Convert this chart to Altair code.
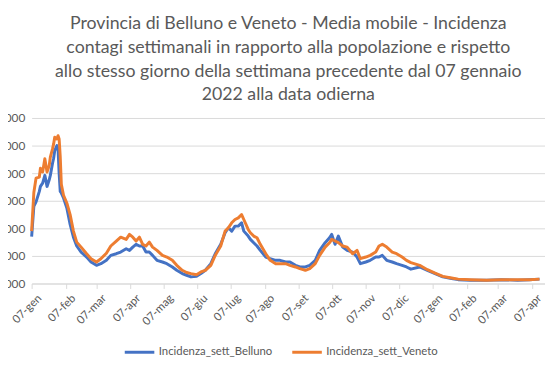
import altair as alt
import pandas as pd

# ---- data ----
dates = [
    "2022-01-07", "2022-01-09", "2022-01-11", "2022-01-14", "2022-01-15", "2022-01-17",
    "2022-01-19", "2022-01-21", "2022-01-23", "2022-01-24", "2022-01-26", "2022-01-27",
    "2022-01-28", "2022-01-30", "2022-01-31", "2022-02-01", "2022-02-02", "2022-02-03",
    "2022-02-05", "2022-02-08", "2022-02-11", "2022-02-14", "2022-02-17", "2022-02-21",
    "2022-02-26", "2022-03-02", "2022-03-07", "2022-03-11", "2022-03-16", "2022-03-20",
    "2022-03-25", "2022-03-29", "2022-04-03", "2022-04-06", "2022-04-09", "2022-04-12",
    "2022-04-15", "2022-04-18", "2022-04-21", "2022-04-24", "2022-04-27", "2022-05-01",
    "2022-05-06", "2022-05-10", "2022-05-15", "2022-05-19", "2022-05-24", "2022-05-28",
    "2022-06-01", "2022-06-06", "2022-06-10", "2022-06-14", "2022-06-19", "2022-06-23",
    "2022-06-28", "2022-07-02", "2022-07-05", "2022-07-08", "2022-07-11", "2022-07-14",
    "2022-07-17", "2022-07-19", "2022-07-23", "2022-07-25", "2022-07-28", "2022-07-31",
    "2022-08-03", "2022-08-08", "2022-08-12", "2022-08-17", "2022-08-21", "2022-08-26",
    "2022-08-30", "2022-09-04", "2022-09-08", "2022-09-13", "2022-09-17", "2022-09-22",
    "2022-09-26", "2022-10-01", "2022-10-05", "2022-10-07", "2022-10-10", "2022-10-13",
    "2022-10-17", "2022-10-21", "2022-10-26", "2022-10-30", "2022-11-02", "2022-11-07",
    "2022-11-11", "2022-11-16", "2022-11-19", "2022-11-22", "2022-11-26", "2022-12-01",
    "2022-12-05", "2022-12-10", "2022-12-14", "2022-12-18", "2022-12-26", "2023-01-02",
    "2023-01-09", "2023-01-16", "2023-01-24", "2023-01-30", "2023-02-10", "2023-02-25",
    "2023-03-10", "2023-03-25", "2023-04-05", "2023-04-14",
]
belluno = [
    0.0085, 0.0140, 0.0148, 0.0167, 0.0176, 0.0182,
    0.0196, 0.0176, 0.0188, 0.0196, 0.0218, 0.0227,
    0.0241, 0.0250, 0.0245, 0.0200, 0.0167, 0.0164,
    0.0155, 0.0137, 0.0107, 0.0084, 0.0068, 0.0057,
    0.0048, 0.0039, 0.0033, 0.0036, 0.0042, 0.0051,
    0.0054, 0.0057, 0.0063, 0.0060, 0.0066, 0.0071,
    0.0068, 0.0068, 0.0057, 0.0057, 0.0051, 0.0042,
    0.0039, 0.0036, 0.0030, 0.0024, 0.0018, 0.0015,
    0.0012, 0.0013, 0.0018, 0.0024, 0.0036, 0.0054,
    0.0071, 0.0092, 0.0101, 0.0095, 0.0104, 0.0104,
    0.0110, 0.0095, 0.0086, 0.0080, 0.0074, 0.0068,
    0.0060, 0.0048, 0.0045, 0.0042, 0.0042, 0.0039,
    0.0039, 0.0033, 0.0030, 0.0030, 0.0033, 0.0042,
    0.0060, 0.0074, 0.0083, 0.0089, 0.0071, 0.0086,
    0.0066, 0.0060, 0.0057, 0.0048, 0.0036, 0.0039,
    0.0042, 0.0048, 0.0048, 0.0051, 0.0042, 0.0039,
    0.0036, 0.0033, 0.0030, 0.0026, 0.0030, 0.0024,
    0.0018, 0.0012, 0.0009, 0.0007, 0.0006, 0.0006,
    0.0007, 0.0006, 0.0007, 0.0008,
]
veneto = [
    0.0095, 0.0165, 0.0191, 0.0193, 0.0209, 0.0202,
    0.0226, 0.0202, 0.0214, 0.0229, 0.0244, 0.0253,
    0.0265, 0.0262, 0.0268, 0.0262, 0.0230, 0.0180,
    0.0160, 0.0146, 0.0125, 0.0095, 0.0075, 0.0066,
    0.0054, 0.0045, 0.0039, 0.0045, 0.0055, 0.0068,
    0.0077, 0.0084, 0.0080, 0.0089, 0.0084, 0.0077,
    0.0084, 0.0071, 0.0068, 0.0075, 0.0066, 0.0060,
    0.0051, 0.0048, 0.0042, 0.0033, 0.0024, 0.0020,
    0.0018, 0.0016, 0.0021, 0.0024, 0.0033, 0.0051,
    0.0068, 0.0095, 0.0101, 0.0110, 0.0116, 0.0119,
    0.0125, 0.0116, 0.0098, 0.0092, 0.0086, 0.0083,
    0.0071, 0.0054, 0.0042, 0.0036, 0.0036, 0.0036,
    0.0033, 0.0030, 0.0027, 0.0024, 0.0027, 0.0036,
    0.0051, 0.0066, 0.0074, 0.0080, 0.0077, 0.0074,
    0.0068, 0.0066, 0.0054, 0.0060, 0.0045, 0.0048,
    0.0051, 0.0057, 0.0068, 0.0071, 0.0066, 0.0057,
    0.0054, 0.0048, 0.0042, 0.0038, 0.0033, 0.0025,
    0.0019, 0.0013, 0.0010, 0.0008, 0.0007, 0.0006,
    0.0007, 0.0007, 0.0007, 0.0008,
]

series_names = ["Incidenza_sett_Belluno", "Incidenza_sett_Veneto"]
series_colors = ["#4472C4", "#ED7D31"]

title_lines = [
    "Provincia di Belluno e Veneto -  Media mobile - Incidenza",
    "contagi settimanali in rapporto alla popolazione e rispetto",
    "allo stesso giorno della settimana precedente dal 07 gennaio",
    "2022 alla data odierna",
]

month_labels = ["gen", "feb", "mar", "apr", "mag", "giu",
                "lug", "ago", "set", "ott", "nov", "dic"]
x_tick_dates = [
    "2022-01-07", "2022-02-07", "2022-03-07", "2022-04-07", "2022-05-07", "2022-06-07",
    "2022-07-07", "2022-08-07", "2022-09-07", "2022-10-07", "2022-11-07", "2022-12-07",
    "2023-01-07", "2023-02-07", "2023-03-07", "2023-04-07",
]
x_domain = ["2022-01-07", "2023-04-19"]
y_ticks = [0, 0.005, 0.01, 0.015, 0.02, 0.025, 0.03]


def ms(s):
    return int(pd.Timestamp(s, tz="UTC").value // 10**6)


rows = []
for d, b, v in zip(dates, belluno, veneto):
    rows.append({"data": d, "serie": series_names[0], "valore": b})
    rows.append({"data": d, "serie": series_names[1], "valore": v})
df = pd.DataFrame(rows)

months_js = "[" + ",".join("'" + m + "'" for m in month_labels) + "]"

grey_text = "#595959"
grid_col = "#D9D9D9"

chart = (
    alt.Chart(df)
    .mark_line(strokeWidth=3, strokeJoin="round")
    .encode(
        x=alt.X(
            "data:T",
            scale=alt.Scale(type="utc", domain=[ms(x_domain[0]), ms(x_domain[1])]),
            axis=alt.Axis(
                title=None,
                values=[ms(t) for t in x_tick_dates],
                labelExpr="'07-' + " + months_js + "[utcmonth(datum.value)]",
                labelAngle=-45,
                labelAlign="right",
                labelBaseline="middle",
                labelFont="Lato",
                labelFontSize=11.5,
                labelColor=grey_text,
                labelPadding=8,
                labelOffset=8,
                grid=False,
                domainColor=grid_col,
                tickColor=grid_col,
                tickSize=5,
                labelOverlap=False,
                labelBound=False,
                labelFlush=False,
            ),
        ),
        y=alt.Y(
            "valore:Q",
            scale=alt.Scale(domain=[0, 0.03], nice=False),
            axis=alt.Axis(
                title=None,
                values=y_ticks,
                format=".6f",
                labelExpr="replace(datum.label, '.', ',')",
                labelFont="Lato",
                labelFontSize=12,
                labelColor=grey_text,
                labelPadding=7,
                domain=False,
                ticks=False,
                gridColor=grid_col,
                labelOverlap=False,
            ),
        ),
        color=alt.Color(
            "serie:N",
            scale=alt.Scale(domain=series_names, range=series_colors),
            legend=alt.Legend(
                title=None,
                orient="none",
                legendX=93,
                legendY=221,
                direction="horizontal",
                symbolType="stroke",
                symbolSize=900,
                symbolStrokeWidth=3,
                labelFont="Lato",
                labelFontSize=11.5,
                labelColor=grey_text,
                labelOffset=3,
                columnPadding=13,
            ),
        ),
    )
    .properties(
        width=521,
        height=168,
        autosize=alt.AutoSizeParams(type="none"),
        padding={"left": 24, "top": 109, "right": 0, "bottom": 76},
        title=alt.TitleParams(
            text=title_lines,
            font="Lato",
            fontSize=18,
            fontWeight="normal",
            color=grey_text,
            anchor="middle",
            lineHeight=24,
            offset=8,
        ),
    )
    .configure_view(stroke=None)
)

chart.save("out.html", embed_options={"renderer": "svg", "actions": False})
